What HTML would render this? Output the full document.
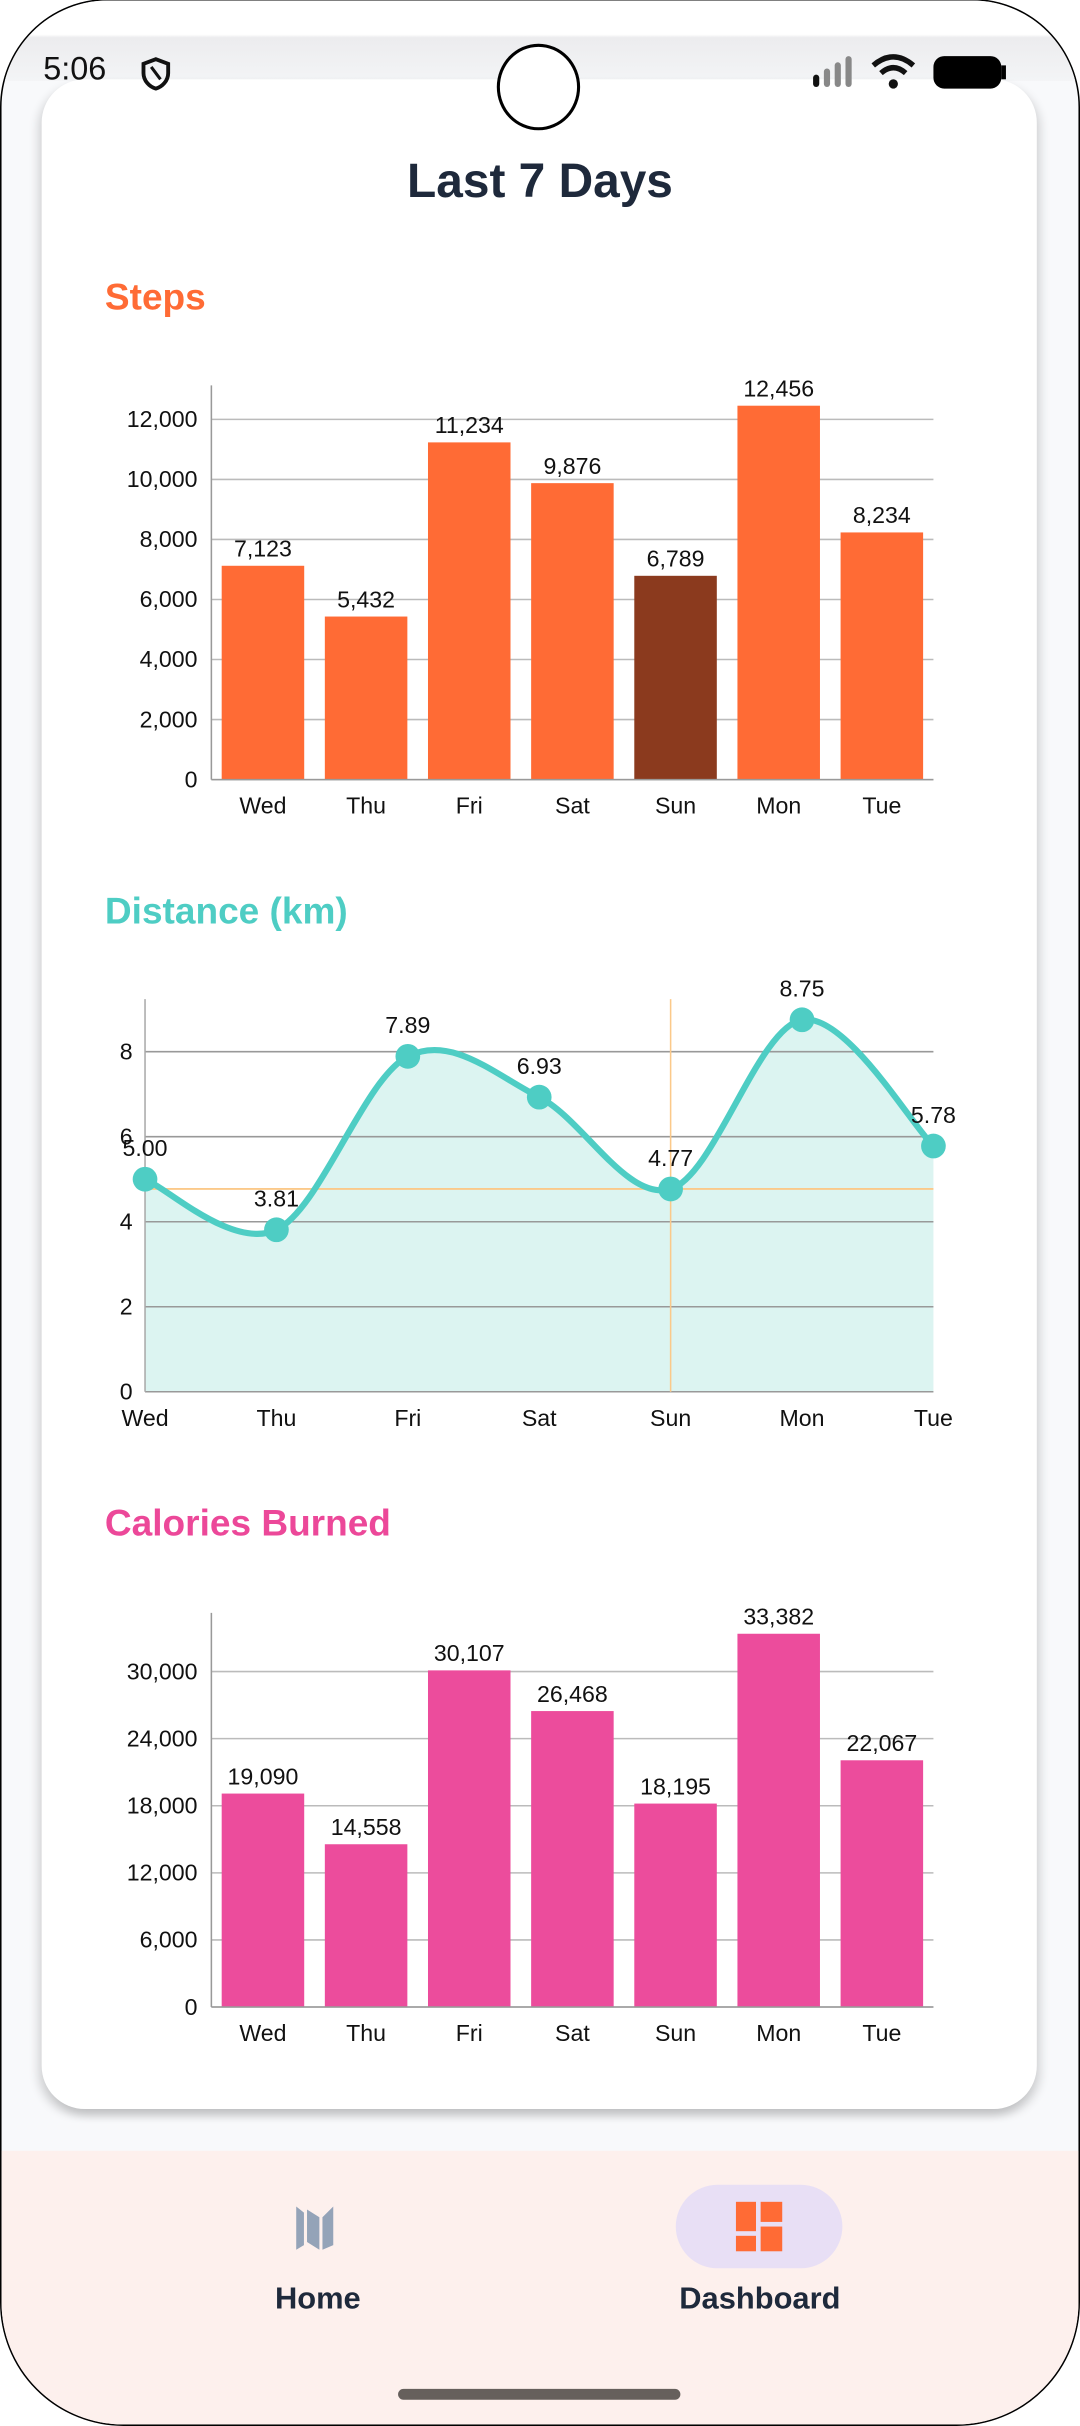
<!DOCTYPE html>
<html><head><meta charset="utf-8">
<style>
html,body{margin:0;padding:0;background:#fff;}
body{width:1080px;height:2424px;overflow:hidden;position:relative;font-family:"Liberation Sans",sans-serif;}
#wrap{position:absolute;left:0;top:2px;width:700px;height:1568px;transform-origin:0 0;transform:scale(1.542857,1.5459);}
.abs{position:absolute;}
</style></head>
<body>
<div id="wrap">
 <div class="abs" style="left:0;top:-2px;width:698px;height:1568px;border:1px solid #000;border-radius:70px 70px 80px 80px;background:#f8f9fb;overflow:hidden;">
  <div class="abs" style="left:0;top:0;width:700px;height:52px;background:linear-gradient(#fff 0,#fff 22px,#ececee 24px,#f3f4f6 52px);"></div>
  <div class="abs" style="left:0;top:1391px;width:700px;height:180px;background:#fdf0ed;"></div>
 </div>
 <div class="abs" style="left:27px;top:50px;width:645px;height:1313px;background:#fff;border-radius:28px;box-shadow:-3px 4px 6px rgba(0,0,0,0.12),3px 4px 6px rgba(0,0,0,0.12);"></div>
 <div class="abs" style="left:28px;top:32px;font-size:21px;color:#111;">5:06</div>
 <svg class="abs" style="left:90px;top:35px" width="22" height="24" viewBox="0 0 22 24"><path d="M11 2 L19 5 V11 C19 16 15 20 11 21 C7 20 3 16 3 11 V5 Z" fill="none" stroke="#111" stroke-width="2.5"/><path d="M8 7 L14 15" stroke="#111" stroke-width="2"/></svg>
 <div class="abs" style="left:322px;top:27px;width:50px;height:52px;border:2px solid #000;border-radius:50%;background:#fff;"></div>
 <svg class="abs" style="left:520px;top:30px" width="135" height="30">
  <rect x="7" y="17" width="4" height="8" rx="2" fill="#111"/><rect x="14" y="13" width="4" height="12" rx="2" fill="#888"/><rect x="21" y="9" width="4" height="16" rx="2" fill="#888"/><rect x="28" y="5" width="4" height="20" rx="2" fill="#888"/>
  <path d="M46 11 Q59 0 72 11" stroke="#111" stroke-width="3.5" fill="none"/><path d="M51 16 Q59 9 67 16" stroke="#111" stroke-width="3.5" fill="none"/><circle cx="59" cy="23" r="3" fill="#111"/>
  <rect x="85" y="5" width="44" height="21" rx="7" fill="#000"/><rect x="129" y="11" width="3" height="9" fill="#000"/>
 </svg>
 <div class="abs" style="left:0;width:700px;top:98px;text-align:center;font-size:31px;font-weight:bold;color:#1e293b;">Last 7 Days</div>
 <div class="abs" style="left:68px;top:178px;font-size:24px;font-weight:bold;color:#ff6b35;">Steps</div>
 <div class="abs" style="left:68px;top:575px;font-size:24px;font-weight:bold;color:#4ecdc4;">Distance (km)</div>
 <div class="abs" style="left:68px;top:971px;font-size:24px;font-weight:bold;color:#ec4899;">Calories Burned</div>
 <svg id="charts" class="abs" style="left:0;top:0" width="700" height="1400"></svg>
 <div class="abs" style="left:150px;top:1415px;width:112px;height:90px;">
  <svg class="abs" style="left:40px;top:8px" width="32" height="34" viewBox="0 0 32 34"><path d="M2 3 L2 31 L7 28 L7 7 Z M9 5 L17 10 L17 31 L9 26 Z M19 10 L26 3 L26 28 L19 31 Z" fill="#94a3b8"/></svg>
  <div class="abs" style="left:0;width:112px;top:60px;text-align:center;font-size:20px;font-weight:bold;color:#1e293b;">Home</div>
 </div>
 <div class="abs" style="left:420px;top:1412px;width:145px;height:95px;">
  <div class="abs" style="left:18px;top:0;width:108px;height:54px;border-radius:27px;background:#e8dff5;"></div>
  <svg class="abs" style="left:56px;top:10px" width="34" height="34"><rect x="1" y="1" width="13" height="19" fill="#ff6b35"/><rect x="17" y="1" width="14" height="13" fill="#ff6b35"/><rect x="1" y="23" width="13" height="10" fill="#ff6b35"/><rect x="17" y="17" width="14" height="16" fill="#ff6b35"/></svg>
  <div class="abs" style="left:0;width:145px;top:63px;text-align:center;font-size:20px;font-weight:bold;color:#1e293b;">Dashboard</div>
 </div>
 <div class="abs" style="left:258px;top:1544px;width:183px;height:7px;border-radius:4px;background:#66605c;"></div>
</div>
<script>
const days = ["Wed","Thu","Fri","Sat","Sun","Mon","Tue"];
const stepsValues = [7123,5432,11234,9876,6789,12456,8234];
const stepsTicks = [0,2000,4000,6000,8000,10000,12000];
const distanceValues = [5.00,3.81,7.89,6.93,4.77,8.75,5.78];
const distanceTicks = [0,2,4,6,8];
const caloriesValues = [19090,14558,30107,26468,18195,33382,22067];
const caloriesTicks = [0,6000,12000,18000,24000,30000];
const highlightIndex = 4;

const NS = "http://www.w3.org/2000/svg";
const svg = document.getElementById("charts");
function mk(tag, attrs, parent){
  const e = document.createElementNS(NS, tag);
  for (const k in attrs) e.setAttribute(k, attrs[k]);
  (parent||svg).appendChild(e);
  return e;
}
function txt(x,y,s,anchor,parent){
  const t = mk("text",{x:x,y:y,"text-anchor":anchor||"middle","font-size":15,fill:"#111","font-family":"Liberation Sans, sans-serif"},parent);
  t.textContent = s;
  return t;
}
function fmt(v){return v.toLocaleString("en-US");}

function barChart(name, values, ticks, axisTop, zeroY, refVal, refY, color, hiColor){
  const g = mk("g",{});
  
  
  const left = 137, right = 605;
  const yScale = v => zeroY - v * (zeroY - refY) / refVal;
  const band = (right - left) / days.length;
  const xBand = i => left + band * i;
  ticks.forEach(t => {
    const y = yScale(t);
    const l = mk("line",{x1:left,x2:right,y1:y,y2:y,stroke:"#bbb","stroke-width":1},g);
    
    
    const tl = txt(left-9, y+5, fmt(t), "end", g);
    
    
  });
  const ax = mk("line",{x1:left,x2:left,y1:axisTop,y2:zeroY,stroke:"#999","stroke-width":1},g);
  
  
  values.forEach((v,i) => {
    const bw = band * 0.8;
    const x = xBand(i) + (band - bw)/2;
    const y = yScale(v);
    const r = mk("rect",{x:x,y:y,width:bw,height:zeroY-y,fill:(hiColor && i===highlightIndex)?hiColor:color},g);
    
    
    const vl = txt(x+bw/2, y-6, fmt(v), "middle", g);
    
    
    const cl = txt(x+bw/2, zeroY+22, days[i], "middle", g);
    
    
  });
  const bx = mk("line",{x1:left,x2:right,y1:zeroY,y2:zeroY,stroke:"#999","stroke-width":1},g);
  
  
}

barChart("steps-chart", stepsValues, stepsTicks, 248, 503, 12000, 270, "#ff6b35", "#8b3a1e");
barChart("calories-chart", caloriesValues, caloriesTicks, 1042, 1297, 30000, 1080, "#ec4c9c", null);

(function(){
  const g = mk("g",{});
  
  
  const left = 94, right = 605, zeroY = 899, top = 645;
  const yScale = v => zeroY - v * 27.5;
  const step = (right-left)/(days.length-1);
  const xPos = i => left + step*i;
  const pts = distanceValues.map((v,i)=>[xPos(i), yScale(v)]);
  let d = "M" + pts[0][0] + "," + pts[0][1];
  for (let i=0;i<pts.length-1;i++){
    const p0 = pts[Math.max(0,i-1)], p1 = pts[i], p2 = pts[i+1], p3 = pts[Math.min(pts.length-1,i+2)];
    const c1 = [p1[0]+(p2[0]-p0[0])/6, p1[1]+(p2[1]-p0[1])/6];
    const c2 = [p2[0]-(p3[0]-p1[0])/6, p2[1]-(p3[1]-p1[1])/6];
    d += " C"+c1[0]+","+c1[1]+" "+c2[0]+","+c2[1]+" "+p2[0]+","+p2[1];
  }
  const area = mk("path",{d:d+" L"+right+","+zeroY+" L"+left+","+zeroY+" Z",fill:"#dcf4f1"},g);
  
  
  distanceTicks.forEach(t=>{
    const y = yScale(t);
    const l = mk("line",{x1:left,x2:right,y1:y,y2:y,stroke:"#999","stroke-width":1},g);
    
    
    const tl = txt(left-8, y+5, String(t), "end", g);
    
    
  });
  const ax = mk("line",{x1:left,x2:left,y1:top,y2:zeroY,stroke:"#aaa","stroke-width":1},g);
  
  
  const hp = pts[highlightIndex];
  const hh = mk("line",{x1:left,x2:right,y1:hp[1],y2:hp[1],stroke:"#fbc98a","stroke-width":1.2},g);
  
  
  const hv = mk("line",{x1:hp[0],x2:hp[0],y1:top,y2:zeroY,stroke:"#fbc98a","stroke-width":1},g);
  
  
  const line = mk("path",{d:d,fill:"none",stroke:"#4ecdc4","stroke-width":4},g);
  
  
  pts.forEach((p,i)=>{
    const c = mk("circle",{cx:p[0],cy:p[1],r:8,fill:"#4ecdc4"},g);
    
    
    const vl = txt(p[0], p[1]-15, distanceValues[i].toFixed(2), "middle", g);
    
    
    const cl = txt(p[0], zeroY+22, days[i], "middle", g);
    
    
  });
})();
</script>
</body></html>
